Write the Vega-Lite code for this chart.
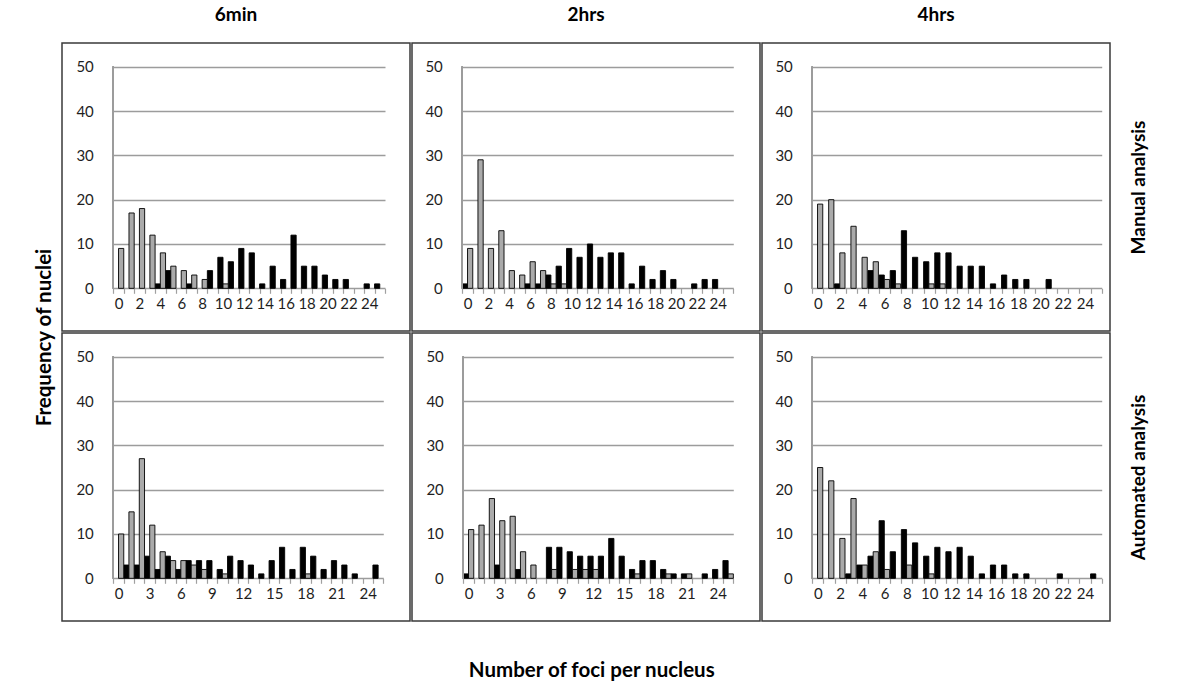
{
  "$schema": "https://vega.github.io/schema/vega-lite/v6.json",
  "padding": {"left": 34, "top": 5, "right": 5, "bottom": 5},
  "background": "white",
  "config": {
    "font": "Lato",
    "view": {"stroke": "#3a3a3a", "strokeWidth": 1.5},
    "axis": {"labelFont": "Lato", "labelFontSize": 15, "labelColor": "#1e1e1e", "titleFont": "Lato"},
    "title": {"font": "Lato", "fontSize": 19, "fontWeight": "bold", "color": "#000000"}
  },
  "data": {
    "values": [
      {"t":"6min","a":"Manual","s":"Series 1","k":4,"n":1},
      {"t":"6min","a":"Manual","s":"Series 1","k":5,"n":4},
      {"t":"6min","a":"Manual","s":"Series 1","k":7,"n":1},
      {"t":"6min","a":"Manual","s":"Series 1","k":9,"n":4},
      {"t":"6min","a":"Manual","s":"Series 1","k":10,"n":7},
      {"t":"6min","a":"Manual","s":"Series 1","k":11,"n":6},
      {"t":"6min","a":"Manual","s":"Series 1","k":12,"n":9},
      {"t":"6min","a":"Manual","s":"Series 1","k":13,"n":8},
      {"t":"6min","a":"Manual","s":"Series 1","k":14,"n":1},
      {"t":"6min","a":"Manual","s":"Series 1","k":15,"n":5},
      {"t":"6min","a":"Manual","s":"Series 1","k":16,"n":2},
      {"t":"6min","a":"Manual","s":"Series 1","k":17,"n":12},
      {"t":"6min","a":"Manual","s":"Series 1","k":18,"n":5},
      {"t":"6min","a":"Manual","s":"Series 1","k":19,"n":5},
      {"t":"6min","a":"Manual","s":"Series 1","k":20,"n":3},
      {"t":"6min","a":"Manual","s":"Series 1","k":21,"n":2},
      {"t":"6min","a":"Manual","s":"Series 1","k":22,"n":2},
      {"t":"6min","a":"Manual","s":"Series 1","k":24,"n":1},
      {"t":"6min","a":"Manual","s":"Series 1","k":25,"n":1},
      {"t":"6min","a":"Manual","s":"Series 2","k":0,"n":9},
      {"t":"6min","a":"Manual","s":"Series 2","k":1,"n":17},
      {"t":"6min","a":"Manual","s":"Series 2","k":2,"n":18},
      {"t":"6min","a":"Manual","s":"Series 2","k":3,"n":12},
      {"t":"6min","a":"Manual","s":"Series 2","k":4,"n":8},
      {"t":"6min","a":"Manual","s":"Series 2","k":5,"n":5},
      {"t":"6min","a":"Manual","s":"Series 2","k":6,"n":4},
      {"t":"6min","a":"Manual","s":"Series 2","k":7,"n":3},
      {"t":"6min","a":"Manual","s":"Series 2","k":8,"n":2},
      {"t":"6min","a":"Manual","s":"Series 2","k":10,"n":1},

      {"t":"2hrs","a":"Manual","s":"Series 1","k":0,"n":1},
      {"t":"2hrs","a":"Manual","s":"Series 1","k":6,"n":1},
      {"t":"2hrs","a":"Manual","s":"Series 1","k":7,"n":1},
      {"t":"2hrs","a":"Manual","s":"Series 1","k":8,"n":3},
      {"t":"2hrs","a":"Manual","s":"Series 1","k":9,"n":5},
      {"t":"2hrs","a":"Manual","s":"Series 1","k":10,"n":9},
      {"t":"2hrs","a":"Manual","s":"Series 1","k":11,"n":7},
      {"t":"2hrs","a":"Manual","s":"Series 1","k":12,"n":10},
      {"t":"2hrs","a":"Manual","s":"Series 1","k":13,"n":7},
      {"t":"2hrs","a":"Manual","s":"Series 1","k":14,"n":8},
      {"t":"2hrs","a":"Manual","s":"Series 1","k":15,"n":8},
      {"t":"2hrs","a":"Manual","s":"Series 1","k":16,"n":1},
      {"t":"2hrs","a":"Manual","s":"Series 1","k":17,"n":5},
      {"t":"2hrs","a":"Manual","s":"Series 1","k":18,"n":2},
      {"t":"2hrs","a":"Manual","s":"Series 1","k":19,"n":4},
      {"t":"2hrs","a":"Manual","s":"Series 1","k":20,"n":2},
      {"t":"2hrs","a":"Manual","s":"Series 1","k":22,"n":1},
      {"t":"2hrs","a":"Manual","s":"Series 1","k":23,"n":2},
      {"t":"2hrs","a":"Manual","s":"Series 1","k":24,"n":2},
      {"t":"2hrs","a":"Manual","s":"Series 2","k":0,"n":9},
      {"t":"2hrs","a":"Manual","s":"Series 2","k":1,"n":29},
      {"t":"2hrs","a":"Manual","s":"Series 2","k":2,"n":9},
      {"t":"2hrs","a":"Manual","s":"Series 2","k":3,"n":13},
      {"t":"2hrs","a":"Manual","s":"Series 2","k":4,"n":4},
      {"t":"2hrs","a":"Manual","s":"Series 2","k":5,"n":3},
      {"t":"2hrs","a":"Manual","s":"Series 2","k":6,"n":6},
      {"t":"2hrs","a":"Manual","s":"Series 2","k":7,"n":4},
      {"t":"2hrs","a":"Manual","s":"Series 2","k":8,"n":1},
      {"t":"2hrs","a":"Manual","s":"Series 2","k":9,"n":1},

      {"t":"4hrs","a":"Manual","s":"Series 1","k":2,"n":1},
      {"t":"4hrs","a":"Manual","s":"Series 1","k":5,"n":4},
      {"t":"4hrs","a":"Manual","s":"Series 1","k":6,"n":3},
      {"t":"4hrs","a":"Manual","s":"Series 1","k":7,"n":4},
      {"t":"4hrs","a":"Manual","s":"Series 1","k":8,"n":13},
      {"t":"4hrs","a":"Manual","s":"Series 1","k":9,"n":7},
      {"t":"4hrs","a":"Manual","s":"Series 1","k":10,"n":6},
      {"t":"4hrs","a":"Manual","s":"Series 1","k":11,"n":8},
      {"t":"4hrs","a":"Manual","s":"Series 1","k":12,"n":8},
      {"t":"4hrs","a":"Manual","s":"Series 1","k":13,"n":5},
      {"t":"4hrs","a":"Manual","s":"Series 1","k":14,"n":5},
      {"t":"4hrs","a":"Manual","s":"Series 1","k":15,"n":5},
      {"t":"4hrs","a":"Manual","s":"Series 1","k":16,"n":1},
      {"t":"4hrs","a":"Manual","s":"Series 1","k":17,"n":3},
      {"t":"4hrs","a":"Manual","s":"Series 1","k":18,"n":2},
      {"t":"4hrs","a":"Manual","s":"Series 1","k":19,"n":2},
      {"t":"4hrs","a":"Manual","s":"Series 1","k":21,"n":2},
      {"t":"4hrs","a":"Manual","s":"Series 2","k":0,"n":19},
      {"t":"4hrs","a":"Manual","s":"Series 2","k":1,"n":20},
      {"t":"4hrs","a":"Manual","s":"Series 2","k":2,"n":8},
      {"t":"4hrs","a":"Manual","s":"Series 2","k":3,"n":14},
      {"t":"4hrs","a":"Manual","s":"Series 2","k":4,"n":7},
      {"t":"4hrs","a":"Manual","s":"Series 2","k":5,"n":6},
      {"t":"4hrs","a":"Manual","s":"Series 2","k":6,"n":2},
      {"t":"4hrs","a":"Manual","s":"Series 2","k":7,"n":1},
      {"t":"4hrs","a":"Manual","s":"Series 2","k":10,"n":1},
      {"t":"4hrs","a":"Manual","s":"Series 2","k":11,"n":1},

      {"t":"6min","a":"Automated","s":"Series 1","k":1,"n":3},
      {"t":"6min","a":"Automated","s":"Series 1","k":2,"n":3},
      {"t":"6min","a":"Automated","s":"Series 1","k":3,"n":5},
      {"t":"6min","a":"Automated","s":"Series 1","k":4,"n":2},
      {"t":"6min","a":"Automated","s":"Series 1","k":5,"n":5},
      {"t":"6min","a":"Automated","s":"Series 1","k":6,"n":2},
      {"t":"6min","a":"Automated","s":"Series 1","k":7,"n":4},
      {"t":"6min","a":"Automated","s":"Series 1","k":8,"n":4},
      {"t":"6min","a":"Automated","s":"Series 1","k":9,"n":4},
      {"t":"6min","a":"Automated","s":"Series 1","k":10,"n":2},
      {"t":"6min","a":"Automated","s":"Series 1","k":11,"n":5},
      {"t":"6min","a":"Automated","s":"Series 1","k":12,"n":4},
      {"t":"6min","a":"Automated","s":"Series 1","k":13,"n":3},
      {"t":"6min","a":"Automated","s":"Series 1","k":14,"n":1},
      {"t":"6min","a":"Automated","s":"Series 1","k":15,"n":4},
      {"t":"6min","a":"Automated","s":"Series 1","k":16,"n":7},
      {"t":"6min","a":"Automated","s":"Series 1","k":17,"n":2},
      {"t":"6min","a":"Automated","s":"Series 1","k":18,"n":7},
      {"t":"6min","a":"Automated","s":"Series 1","k":19,"n":5},
      {"t":"6min","a":"Automated","s":"Series 1","k":20,"n":2},
      {"t":"6min","a":"Automated","s":"Series 1","k":21,"n":4},
      {"t":"6min","a":"Automated","s":"Series 1","k":22,"n":3},
      {"t":"6min","a":"Automated","s":"Series 1","k":23,"n":1},
      {"t":"6min","a":"Automated","s":"Series 1","k":25,"n":3},
      {"t":"6min","a":"Automated","s":"Series 2","k":0,"n":10},
      {"t":"6min","a":"Automated","s":"Series 2","k":1,"n":15},
      {"t":"6min","a":"Automated","s":"Series 2","k":2,"n":27},
      {"t":"6min","a":"Automated","s":"Series 2","k":3,"n":12},
      {"t":"6min","a":"Automated","s":"Series 2","k":4,"n":6},
      {"t":"6min","a":"Automated","s":"Series 2","k":5,"n":4},
      {"t":"6min","a":"Automated","s":"Series 2","k":6,"n":4},
      {"t":"6min","a":"Automated","s":"Series 2","k":7,"n":3},
      {"t":"6min","a":"Automated","s":"Series 2","k":8,"n":2},
      {"t":"6min","a":"Automated","s":"Series 2","k":10,"n":1},
      {"t":"6min","a":"Automated","s":"Series 2","k":18,"n":1},

      {"t":"2hrs","a":"Automated","s":"Series 1","k":0,"n":1},
      {"t":"2hrs","a":"Automated","s":"Series 1","k":3,"n":3},
      {"t":"2hrs","a":"Automated","s":"Series 1","k":5,"n":2},
      {"t":"2hrs","a":"Automated","s":"Series 1","k":8,"n":7},
      {"t":"2hrs","a":"Automated","s":"Series 1","k":9,"n":7},
      {"t":"2hrs","a":"Automated","s":"Series 1","k":10,"n":6},
      {"t":"2hrs","a":"Automated","s":"Series 1","k":11,"n":5},
      {"t":"2hrs","a":"Automated","s":"Series 1","k":12,"n":5},
      {"t":"2hrs","a":"Automated","s":"Series 1","k":13,"n":5},
      {"t":"2hrs","a":"Automated","s":"Series 1","k":14,"n":9},
      {"t":"2hrs","a":"Automated","s":"Series 1","k":15,"n":5},
      {"t":"2hrs","a":"Automated","s":"Series 1","k":16,"n":2},
      {"t":"2hrs","a":"Automated","s":"Series 1","k":17,"n":4},
      {"t":"2hrs","a":"Automated","s":"Series 1","k":18,"n":4},
      {"t":"2hrs","a":"Automated","s":"Series 1","k":19,"n":2},
      {"t":"2hrs","a":"Automated","s":"Series 1","k":20,"n":1},
      {"t":"2hrs","a":"Automated","s":"Series 1","k":21,"n":1},
      {"t":"2hrs","a":"Automated","s":"Series 1","k":23,"n":1},
      {"t":"2hrs","a":"Automated","s":"Series 1","k":24,"n":2},
      {"t":"2hrs","a":"Automated","s":"Series 1","k":25,"n":4},
      {"t":"2hrs","a":"Automated","s":"Series 2","k":0,"n":11},
      {"t":"2hrs","a":"Automated","s":"Series 2","k":1,"n":12},
      {"t":"2hrs","a":"Automated","s":"Series 2","k":2,"n":18},
      {"t":"2hrs","a":"Automated","s":"Series 2","k":3,"n":13},
      {"t":"2hrs","a":"Automated","s":"Series 2","k":4,"n":14},
      {"t":"2hrs","a":"Automated","s":"Series 2","k":5,"n":6},
      {"t":"2hrs","a":"Automated","s":"Series 2","k":6,"n":3},
      {"t":"2hrs","a":"Automated","s":"Series 2","k":8,"n":2},
      {"t":"2hrs","a":"Automated","s":"Series 2","k":10,"n":2},
      {"t":"2hrs","a":"Automated","s":"Series 2","k":11,"n":2},
      {"t":"2hrs","a":"Automated","s":"Series 2","k":12,"n":2},
      {"t":"2hrs","a":"Automated","s":"Series 2","k":16,"n":1},
      {"t":"2hrs","a":"Automated","s":"Series 2","k":19,"n":1},
      {"t":"2hrs","a":"Automated","s":"Series 2","k":21,"n":1},
      {"t":"2hrs","a":"Automated","s":"Series 2","k":25,"n":1},

      {"t":"4hrs","a":"Automated","s":"Series 1","k":3,"n":1},
      {"t":"4hrs","a":"Automated","s":"Series 1","k":4,"n":3},
      {"t":"4hrs","a":"Automated","s":"Series 1","k":5,"n":5},
      {"t":"4hrs","a":"Automated","s":"Series 1","k":6,"n":13},
      {"t":"4hrs","a":"Automated","s":"Series 1","k":7,"n":6},
      {"t":"4hrs","a":"Automated","s":"Series 1","k":8,"n":11},
      {"t":"4hrs","a":"Automated","s":"Series 1","k":9,"n":8},
      {"t":"4hrs","a":"Automated","s":"Series 1","k":10,"n":5},
      {"t":"4hrs","a":"Automated","s":"Series 1","k":11,"n":7},
      {"t":"4hrs","a":"Automated","s":"Series 1","k":12,"n":6},
      {"t":"4hrs","a":"Automated","s":"Series 1","k":13,"n":7},
      {"t":"4hrs","a":"Automated","s":"Series 1","k":14,"n":5},
      {"t":"4hrs","a":"Automated","s":"Series 1","k":15,"n":1},
      {"t":"4hrs","a":"Automated","s":"Series 1","k":16,"n":3},
      {"t":"4hrs","a":"Automated","s":"Series 1","k":17,"n":3},
      {"t":"4hrs","a":"Automated","s":"Series 1","k":18,"n":1},
      {"t":"4hrs","a":"Automated","s":"Series 1","k":19,"n":1},
      {"t":"4hrs","a":"Automated","s":"Series 1","k":22,"n":1},
      {"t":"4hrs","a":"Automated","s":"Series 1","k":25,"n":1},
      {"t":"4hrs","a":"Automated","s":"Series 2","k":0,"n":25},
      {"t":"4hrs","a":"Automated","s":"Series 2","k":1,"n":22},
      {"t":"4hrs","a":"Automated","s":"Series 2","k":2,"n":9},
      {"t":"4hrs","a":"Automated","s":"Series 2","k":3,"n":18},
      {"t":"4hrs","a":"Automated","s":"Series 2","k":4,"n":3},
      {"t":"4hrs","a":"Automated","s":"Series 2","k":5,"n":6},
      {"t":"4hrs","a":"Automated","s":"Series 2","k":6,"n":2},
      {"t":"4hrs","a":"Automated","s":"Series 2","k":8,"n":3},
      {"t":"4hrs","a":"Automated","s":"Series 2","k":10,"n":1}
    ]
  },
  "title": {"text": "Number of foci per nucleus", "orient": "bottom", "anchor": "middle", "offset": 39, "fontSize": 20.5},
  "vconcat": [
    {
      "title": {"text": "Frequency of nuclei", "orient": "left", "anchor": "middle", "offset": 6, "fontSize": 20.5, "dx": -24},
      "columns": 3,
      "spacing": 0,
      "align": "each",
      "concat": [
        {
          "title": {"text": "6min", "offset": 18},
          "width": 348, "height": 288,
          "transform": [{"filter": "datum.t === '6min' && datum.a === 'Manual'"}],
          "resolve": {"axis": {"x": "independent", "y": "independent"}},
          "layer": [
            {"mark": {"type": "bar", "stroke": "#000000", "strokeWidth": 0.9},
             "encoding": {
               "x": {"field": "k", "type": "ordinal", "scale": {"domain": [0,1,2,3,4,5,6,7,8,9,10,11,12,13,14,15,16,17,18,19,20,21,22,23,24,25], "paddingInner": 0, "paddingOuter": 0, "range": [51.3, 323]},
                     "axis": {"title": null, "orient": "bottom", "offset": -42.7, "domain": false, "tickBand": "extent", "tickSize": 5, "tickColor": "#a0a0a0", "tickWidth": 1.2, "labelAngle": 0, "labelPadding": 3, "labelOverlap": false, "labelFlush": false, "labelExpr": "datum.value % 2 === 0 ? datum.label : ''"}},
               "xOffset": {"field": "s", "scale": {"domain": ["Series 1", "Series 2"], "paddingInner": 0, "paddingOuter": 0}},
               "y": {"field": "n", "type": "quantitative", "stack": null, "scale": {"domain": [-9.63, 55.35], "nice": false, "zero": false},
                     "axis": {"title": null, "values": [0,10,20,30,40,50], "offset": -51.3, "domain": false, "grid": false, "tickSize": -271.7, "tickColor": "#9c9c9c", "tickWidth": 1.3, "labelPadding": 291.7}},
               "y2": {"datum": 0},
               "color": {"field": "s", "scale": {"domain": ["Series 1", "Series 2"], "range": ["#000000", "#aaaaaa"]}, "legend": null}
             }},
            {"mark": {"type": "rule", "color": "#9c9c9c", "strokeWidth": 1.3},
             "encoding": {
               "x": {"datum": 0, "type": "ordinal", "bandPosition": 0, "axis": null},
               "y": {"datum": 0, "type": "quantitative", "axis": null},
               "y2": {"datum": 50}
             }}
          ]
        },
        {
          "title": {"text": "2hrs", "offset": 18},
          "width": 348, "height": 288,
          "transform": [{"filter": "datum.t === '2hrs' && datum.a === 'Manual'"}],
          "resolve": {"axis": {"x": "independent", "y": "independent"}},
          "layer": [
            {"mark": {"type": "bar", "stroke": "#000000", "strokeWidth": 0.9},
             "encoding": {
               "x": {"field": "k", "type": "ordinal", "scale": {"domain": [0,1,2,3,4,5,6,7,8,9,10,11,12,13,14,15,16,17,18,19,20,21,22,23,24,25], "paddingInner": 0, "paddingOuter": 0, "range": [50.3, 321.3]},
                     "axis": {"title": null, "orient": "bottom", "offset": -42.7, "domain": false, "tickBand": "extent", "tickSize": 5, "tickColor": "#a0a0a0", "tickWidth": 1.2, "labelAngle": 0, "labelPadding": 3, "labelOverlap": false, "labelFlush": false, "labelExpr": "datum.value % 2 === 0 ? datum.label : ''"}},
               "xOffset": {"field": "s", "scale": {"domain": ["Series 1", "Series 2"], "paddingInner": 0, "paddingOuter": 0}},
               "y": {"field": "n", "type": "quantitative", "stack": null, "scale": {"domain": [-9.63, 55.35], "nice": false, "zero": false},
                     "axis": {"title": null, "values": [0,10,20,30,40,50], "offset": -50.3, "domain": false, "grid": false, "tickSize": -271, "tickColor": "#9c9c9c", "tickWidth": 1.3, "labelPadding": 291}},
               "y2": {"datum": 0},
               "color": {"field": "s", "scale": {"domain": ["Series 1", "Series 2"], "range": ["#000000", "#aaaaaa"]}, "legend": null}
             }},
            {"mark": {"type": "rule", "color": "#9c9c9c", "strokeWidth": 1.3},
             "encoding": {
               "x": {"datum": 0, "type": "ordinal", "bandPosition": 0, "axis": null},
               "y": {"datum": 0, "type": "quantitative", "axis": null},
               "y2": {"datum": 50}
             }}
          ]
        },
        {
          "title": {"text": "4hrs", "offset": 18},
          "width": 348, "height": 288,
          "transform": [{"filter": "datum.t === '4hrs' && datum.a === 'Manual'"}],
          "resolve": {"axis": {"x": "independent", "y": "independent"}},
          "layer": [
            {"mark": {"type": "bar", "stroke": "#000000", "strokeWidth": 0.9},
             "encoding": {
               "x": {"field": "k", "type": "ordinal", "scale": {"domain": [0,1,2,3,4,5,6,7,8,9,10,11,12,13,14,15,16,17,18,19,20,21,22,23,24,25], "paddingInner": 0, "paddingOuter": 0, "range": [50.3, 339.7]},
                     "axis": {"title": null, "orient": "bottom", "offset": -42.7, "domain": false, "tickBand": "extent", "tickSize": 5, "tickColor": "#a0a0a0", "tickWidth": 1.2, "labelAngle": 0, "labelPadding": 3, "labelOverlap": false, "labelFlush": false, "labelExpr": "datum.value % 2 === 0 ? datum.label : ''"}},
               "xOffset": {"field": "s", "scale": {"domain": ["Series 1", "Series 2"], "paddingInner": 0, "paddingOuter": 0}},
               "y": {"field": "n", "type": "quantitative", "stack": null, "scale": {"domain": [-9.63, 55.35], "nice": false, "zero": false},
                     "axis": {"title": null, "values": [0,10,20,30,40,50], "offset": -50.3, "domain": false, "grid": false, "tickSize": -289.4, "tickColor": "#9c9c9c", "tickWidth": 1.3, "labelPadding": 309.4}},
               "y2": {"datum": 0},
               "color": {"field": "s", "scale": {"domain": ["Series 1", "Series 2"], "range": ["#000000", "#aaaaaa"]}, "legend": null}
             }},
            {"mark": {"type": "rule", "color": "#9c9c9c", "strokeWidth": 1.3},
             "encoding": {
               "x": {"datum": 0, "type": "ordinal", "bandPosition": 0, "axis": null},
               "y": {"datum": 0, "type": "quantitative", "axis": {"orient": "right", "title": "Manual analysis", "labels": false, "ticks": false, "domain": false, "grid": false, "titleAngle": -90, "titlePadding": 38, "titleFontSize": 19, "titleFontWeight": "bold", "titleColor": "#000000"}},
               "y2": {"datum": 50}
             }}
          ]
        },
        {
          "width": 348, "height": 288,
          "transform": [{"filter": "datum.t === '6min' && datum.a === 'Automated'"}],
          "resolve": {"axis": {"x": "independent", "y": "independent"}},
          "layer": [
            {"mark": {"type": "bar", "stroke": "#000000", "strokeWidth": 0.9},
             "encoding": {
               "x": {"field": "k", "type": "ordinal", "scale": {"domain": [0,1,2,3,4,5,6,7,8,9,10,11,12,13,14,15,16,17,18,19,20,21,22,23,24,25], "paddingInner": 0, "paddingOuter": 0, "range": [51.3, 321.3]},
                     "axis": {"title": null, "orient": "bottom", "offset": -42.7, "domain": false, "tickBand": "extent", "tickSize": 5, "tickColor": "#a0a0a0", "tickWidth": 1.2, "labelAngle": 0, "labelPadding": 3, "labelOverlap": false, "labelFlush": false, "labelExpr": "datum.value % 3 === 0 ? datum.label : ''"}},
               "xOffset": {"field": "s", "scale": {"domain": ["Series 1", "Series 2"], "paddingInner": 0, "paddingOuter": 0}},
               "y": {"field": "n", "type": "quantitative", "stack": null, "scale": {"domain": [-9.63, 55.35], "nice": false, "zero": false},
                     "axis": {"title": null, "values": [0,10,20,30,40,50], "offset": -51.3, "domain": false, "grid": false, "tickSize": -270, "tickColor": "#9c9c9c", "tickWidth": 1.3, "labelPadding": 290}},
               "y2": {"datum": 0},
               "color": {"field": "s", "scale": {"domain": ["Series 1", "Series 2"], "range": ["#000000", "#aaaaaa"]}, "legend": null}
             }},
            {"mark": {"type": "rule", "color": "#9c9c9c", "strokeWidth": 1.3},
             "encoding": {
               "x": {"datum": 0, "type": "ordinal", "bandPosition": 0, "axis": null},
               "y": {"datum": 0, "type": "quantitative", "axis": null},
               "y2": {"datum": 50}
             }}
          ]
        },
        {
          "width": 348, "height": 288,
          "transform": [{"filter": "datum.t === '2hrs' && datum.a === 'Automated'"}],
          "resolve": {"axis": {"x": "independent", "y": "independent"}},
          "layer": [
            {"mark": {"type": "bar", "stroke": "#000000", "strokeWidth": 0.9},
             "encoding": {
               "x": {"field": "k", "type": "ordinal", "scale": {"domain": [0,1,2,3,4,5,6,7,8,9,10,11,12,13,14,15,16,17,18,19,20,21,22,23,24,25], "paddingInner": 0, "paddingOuter": 0, "range": [51.3, 321.3]},
                     "axis": {"title": null, "orient": "bottom", "offset": -42.7, "domain": false, "tickBand": "extent", "tickSize": 5, "tickColor": "#a0a0a0", "tickWidth": 1.2, "labelAngle": 0, "labelPadding": 3, "labelOverlap": false, "labelFlush": false, "labelExpr": "datum.value % 3 === 0 ? datum.label : ''"}},
               "xOffset": {"field": "s", "scale": {"domain": ["Series 1", "Series 2"], "paddingInner": 0, "paddingOuter": 0}},
               "y": {"field": "n", "type": "quantitative", "stack": null, "scale": {"domain": [-9.63, 55.35], "nice": false, "zero": false},
                     "axis": {"title": null, "values": [0,10,20,30,40,50], "offset": -51.3, "domain": false, "grid": false, "tickSize": -270, "tickColor": "#9c9c9c", "tickWidth": 1.3, "labelPadding": 290}},
               "y2": {"datum": 0},
               "color": {"field": "s", "scale": {"domain": ["Series 1", "Series 2"], "range": ["#000000", "#aaaaaa"]}, "legend": null}
             }},
            {"mark": {"type": "rule", "color": "#9c9c9c", "strokeWidth": 1.3},
             "encoding": {
               "x": {"datum": 0, "type": "ordinal", "bandPosition": 0, "axis": null},
               "y": {"datum": 0, "type": "quantitative", "axis": null},
               "y2": {"datum": 50}
             }}
          ]
        },
        {
          "width": 348, "height": 288,
          "transform": [{"filter": "datum.t === '4hrs' && datum.a === 'Automated'"}],
          "resolve": {"axis": {"x": "independent", "y": "independent"}},
          "layer": [
            {"mark": {"type": "bar", "stroke": "#000000", "strokeWidth": 0.9},
             "encoding": {
               "x": {"field": "k", "type": "ordinal", "scale": {"domain": [0,1,2,3,4,5,6,7,8,9,10,11,12,13,14,15,16,17,18,19,20,21,22,23,24,25], "paddingInner": 0, "paddingOuter": 0, "range": [50.3, 339.7]},
                     "axis": {"title": null, "orient": "bottom", "offset": -42.7, "domain": false, "tickBand": "extent", "tickSize": 5, "tickColor": "#a0a0a0", "tickWidth": 1.2, "labelAngle": 0, "labelPadding": 3, "labelOverlap": false, "labelFlush": false, "labelExpr": "datum.value % 2 === 0 ? datum.label : ''"}},
               "xOffset": {"field": "s", "scale": {"domain": ["Series 1", "Series 2"], "paddingInner": 0, "paddingOuter": 0}},
               "y": {"field": "n", "type": "quantitative", "stack": null, "scale": {"domain": [-9.63, 55.35], "nice": false, "zero": false},
                     "axis": {"title": null, "values": [0,10,20,30,40,50], "offset": -50.3, "domain": false, "grid": false, "tickSize": -289.4, "tickColor": "#9c9c9c", "tickWidth": 1.3, "labelPadding": 309.4}},
               "y2": {"datum": 0},
               "color": {"field": "s", "scale": {"domain": ["Series 1", "Series 2"], "range": ["#000000", "#aaaaaa"]}, "legend": null}
             }},
            {"mark": {"type": "rule", "color": "#9c9c9c", "strokeWidth": 1.3},
             "encoding": {
               "x": {"datum": 0, "type": "ordinal", "bandPosition": 0, "axis": null},
               "y": {"datum": 0, "type": "quantitative", "axis": {"orient": "right", "title": "Automated analysis", "labels": false, "ticks": false, "domain": false, "grid": false, "titleAngle": -90, "titlePadding": 38, "titleFontSize": 19, "titleFontWeight": "bold", "titleColor": "#000000"}},
               "y2": {"datum": 50}
             }}
          ]
        }
      ]
    }
  ]
}
